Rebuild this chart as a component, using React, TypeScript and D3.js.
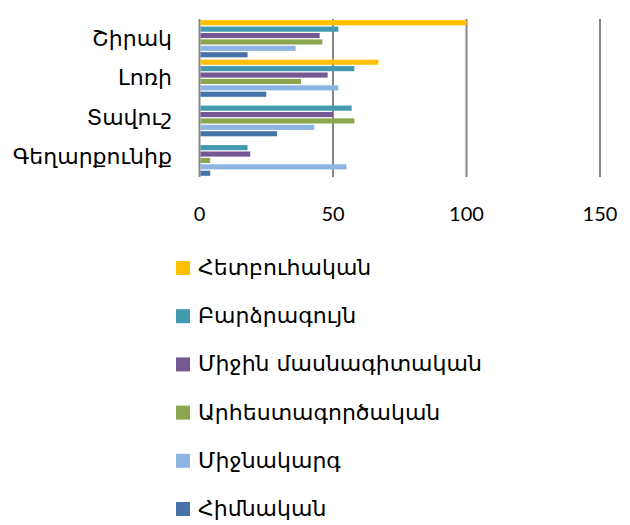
import React from "react";
import * as d3 from "d3";

const categories = ["Շիրակ", "Լոռի", "Տավուշ", "Գեղարքունիք"];
const seriesNames = [
  "Հետբուհական",
  "Բարձրագույն",
  "Միջին մասնագիտական",
  "Արհեստագործական",
  "Միջնակարգ",
  "Հիմնական",
];
const hetbuhakan = [100, 67, 0, 0];
const bardzraguyn = [52, 58, 57, 18];
const mijinMasnagitakan = [45, 48, 50, 19];
const arhestagortsakan = [46, 38, 58, 4];
const mijnakarg = [36, 52, 43, 55];
const himnakan = [18, 25, 29, 4];
const seriesValues = [hetbuhakan, bardzraguyn, mijinMasnagitakan, arhestagortsakan, mijnakarg, himnakan];
const colors = ["#FFC000", "#4299B0", "#735891", "#8AA64E", "#8EB4E3", "#4672A8"];
const xTicks = [0, 50, 100, 150];

export default function App() {
  const W = 630, H = 525;
  const x = d3.scaleLinear().domain([0, 150]).range([199.5, 600]);
  const y = d3.scaleBand().domain(categories).range([19, 177]).paddingInner(0.06).paddingOuter(0.03);
  const inner = d3.scaleBand().domain(seriesNames).range([0, y.bandwidth()]).paddingInner(0.2);
  const armFont = "'DejaVu Sans', 'Noto Sans', sans-serif";
  return (
    <svg width={W} height={H} style={{ position: "absolute", left: 0, top: 0, background: "#fff" }}>
      {xTicks.map((t) => (
        <line key={"g" + t} x1={x(t)} x2={x(t)} y1={19} y2={177} stroke="#868686" strokeWidth={2} />
      ))}
      {categories.map((c, ci) =>
        seriesNames.map((s, si) => {
          const v = seriesValues[si][ci];
          if (!v) return null;
          return (
            <rect
              key={c + s}
              x={x(0) + 1}
              y={(y(c) as number) + (inner(s) as number)}
              width={x(v) - x(0) - 1}
              height={inner.bandwidth()}
              fill={colors[si]}
            />
          );
        })
      )}
      {categories.map((c) => (
        <text key={c} x={172} y={(y(c) as number) + y.bandwidth() / 2 + 7} textAnchor="end" fontFamily={armFont} fontSize={22} fill="#000">
          {c}
        </text>
      ))}
      {xTicks.map((t) => (
        <text key={"t" + t} x={x(t)} y={221} textAnchor="middle" fontFamily="Lato, 'Open Sans', sans-serif" fontSize={20} fill="#000">
          {t}
        </text>
      ))}
      {seriesNames.map((s, si) => (
        <g key={"l" + s} transform={`translate(176, ${261 + si * 48.2})`}>
          <rect x={0} y={0} width={14} height={14} fill={colors[si]} />
          <text x={22} y={14} fontFamily={armFont} fontSize={22} fill="#000">
            {s}
          </text>
        </g>
      ))}
    </svg>
  );
}
